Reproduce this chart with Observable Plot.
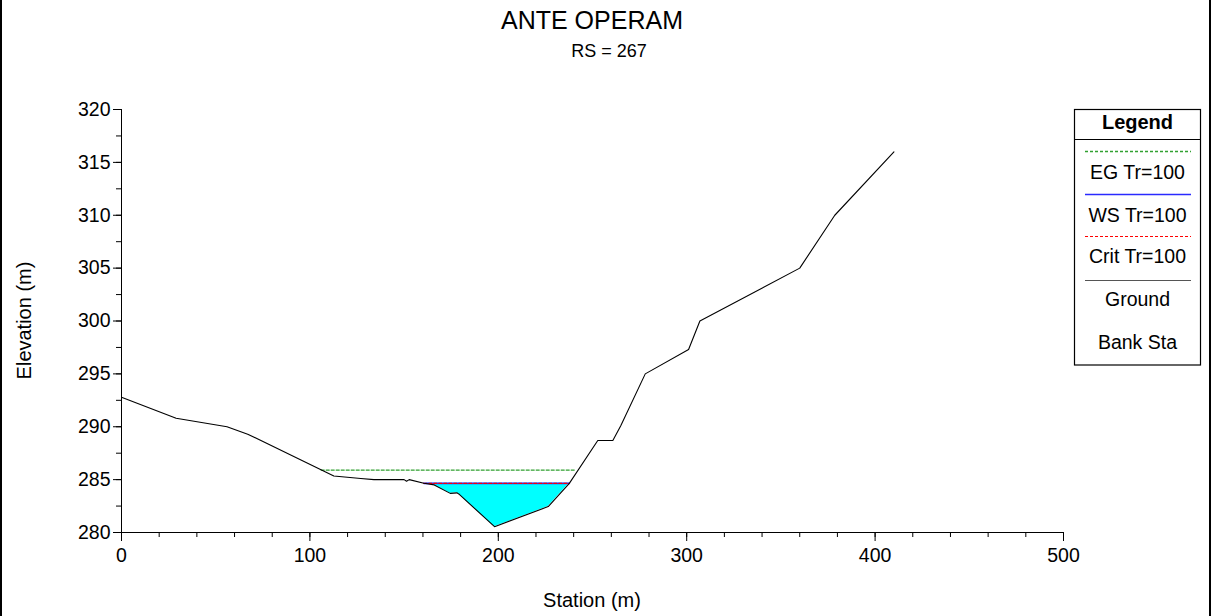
<!DOCTYPE html>
<html>
<head>
<meta charset="utf-8">
<script src="https://cdn.jsdelivr.net/npm/d3@7"></script>
<script src="https://cdn.jsdelivr.net/npm/@observablehq/plot@0.6"></script>
<style>
  html, body { margin: 0; padding: 0; background: white; }
  #chart { position: relative; width: 1212px; height: 616px; }
</style>
</head>
<body>
<div id="chart"></div>
<script>
// ---- Data ----
const title = "ANTE OPERAM";
const subtitle = "RS = 267";
const xLabel = "Station (m)";
const yLabel = "Elevation (m)";

// Ground profile
const groundStation = [0, 29, 56, 67, 112.7, 127, 134, 150, 151.3, 152.7, 160.5, 166, 174.5, 178, 179, 198, 226.5, 237.7, 252.8, 260.8, 265, 278, 301, 307, 360, 378.6, 410];
const groundElev    = [292.8, 290.8, 290.0, 289.3, 285.35, 285.1, 285.0, 285.0, 284.85, 285.0, 284.65, 284.5, 283.7, 283.75, 283.65, 280.55, 282.45, 284.65, 288.7, 288.7, 290.1, 295.0, 297.3, 300.0, 305.0, 310.0, 316.0];

// Water surface / critical / energy grade (Tr=100)
const wsElev = 284.65;
const wsStations = [160.5, 237.7];
const critElev = 284.65;
const critStations = [160.5, 237.7];
const egElev = 285.9;
const egStations = [106, 241];

const xTicksMajor = [0, 100, 200, 300, 400, 500];
const xTicksMinor = d3.range(0, 501, 20);
const yTicksMajor = [280, 285, 290, 295, 300, 305, 310, 315, 320];
const yTicksMinor = d3.range(280, 320.1, 2.5);

const legendItems = ["EG Tr=100", "WS Tr=100", "Crit Tr=100", "Ground", "Bank Sta"];

// ---- Build tables ----
const ground = groundStation.map((s, i) => ({s, e: groundElev[i]}));
const water = ground
  .filter(d => d.s >= wsStations[0] && d.s <= wsStations[1])
  .map(d => ({s: d.s, g: Math.min(d.e, wsElev), ws: wsElev}));
const wsLine = wsStations.map(s => ({s, e: wsElev}));
const critLine = critStations.map(s => ({s, e: critElev}));
const egLine = egStations.map(s => ({s, e: egElev}));

const FONT = "'Liberation Sans', Arial, Helvetica, sans-serif";
const W = 1212, H = 616;
const mL = 121, mR = 149, mT = 109, mB = 84;

const EG_COLOR = "#30a030", WS_COLOR = "#2a2aff", CRIT_COLOR = "#ff0000", GROUND_COLOR = "#000000";

const plot = Plot.plot({
  width: W, height: H,
  marginLeft: mL, marginRight: mR, marginTop: mT, marginBottom: mB,
  style: {fontFamily: FONT, fontSize: "19px", color: "black", background: "white", overflow: "visible"},
  x: {domain: [0, 500]},
  y: {domain: [280, 320]},
  marks: [
    Plot.areaY(water, {x: "s", y1: "g", y2: "ws", fill: "#00ffff", curve: "linear"}),
    Plot.line(egLine, {x: "s", y: "e", stroke: EG_COLOR, strokeWidth: 1.3, strokeDasharray: "3,2"}),
    Plot.line(wsLine, {x: "s", y: "e", stroke: WS_COLOR, strokeWidth: 1.6}),
    Plot.line(critLine, {x: "s", y: "e", stroke: CRIT_COLOR, strokeWidth: 1.3, strokeDasharray: "3,2"}),
    Plot.line(ground, {x: "s", y: "e", stroke: GROUND_COLOR, strokeWidth: 1.1}),
    Plot.axisY({ticks: yTicksMinor, tickSize: 5, tickFormat: () => "", label: null}),
    Plot.axisY({ticks: yTicksMajor, tickSize: 8, tickPadding: 3, label: null, fontSize: 19.5}),
    Plot.axisX({ticks: xTicksMinor, tickSize: 5, tickFormat: () => "", label: null}),
    Plot.axisX({ticks: xTicksMajor, tickSize: 9, tickPadding: 7, label: null, fontSize: 19.5}),
    Plot.ruleX([0], {stroke: "black"}),
    Plot.ruleY([280], {stroke: "black"})
  ]
});

const svg = d3.select(plot);

// Outer frame edges
svg.append("rect").attr("x", 0).attr("y", 0).attr("width", 2).attr("height", H).attr("fill", "black");
svg.append("rect").attr("x", W - 3).attr("y", 0).attr("width", 2).attr("height", H).attr("fill", "black");

// Titles
svg.append("text").attr("x", 592).attr("y", 29).attr("text-anchor", "middle")
  .attr("font-family", FONT).attr("font-size", 25).text(title);
svg.append("text").attr("x", 609).attr("y", 57).attr("text-anchor", "middle")
  .attr("font-family", FONT).attr("font-size", 18).text(subtitle);

// Axis titles
svg.append("text").attr("transform", "translate(31,320.5) rotate(-90)").attr("text-anchor", "middle")
  .attr("font-family", FONT).attr("font-size", 20).text(yLabel);
svg.append("text").attr("x", 592).attr("y", 607).attr("text-anchor", "middle")
  .attr("font-family", FONT).attr("font-size", 20).text(xLabel);

// Legend box
const lg = svg.append("g").attr("font-family", FONT);
const lx0 = 1074, lx1 = 1200, ly0 = 109.5, ly1 = 365;
lg.append("rect").attr("x", lx0 + 0.5).attr("y", ly0).attr("width", lx1 - lx0).attr("height", ly1 - ly0)
  .attr("fill", "white").attr("stroke", "black").attr("stroke-width", 1.2);
lg.append("line").attr("x1", lx0).attr("x2", lx1).attr("y1", 139.5).attr("y2", 139.5).attr("stroke", "black");
const cx = (lx0 + lx1) / 2 + 0.5;
lg.append("text").attr("x", cx).attr("y", 129).attr("text-anchor", "middle")
  .attr("font-size", 20).attr("font-weight", "bold").text("Legend");
const swatches = [
  {y: 151.5, stroke: EG_COLOR, dash: "3,2", w: 1.3},
  {y: 194.5, stroke: WS_COLOR, dash: null, w: 1.5},
  {y: 236.5, stroke: CRIT_COLOR, dash: "3,2", w: 1},
  {y: 280.5, stroke: "#555555", dash: null, w: 1.2},
  null
];
const textY = [178.5, 221.5, 262.5, 306, 349];
legendItems.forEach((label, i) => {
  const sw = swatches[i];
  if (sw) {
    const l = lg.append("line").attr("x1", 1085).attr("x2", 1191).attr("y1", sw.y).attr("y2", sw.y)
      .attr("stroke", sw.stroke).attr("stroke-width", sw.w);
    if (sw.dash) l.attr("stroke-dasharray", sw.dash);
  }
  lg.append("text").attr("x", cx).attr("y", textY[i]).attr("text-anchor", "middle")
    .attr("font-size", 19.5).text(label);
});

document.getElementById("chart").appendChild(plot);
</script>
</body>
</html>
